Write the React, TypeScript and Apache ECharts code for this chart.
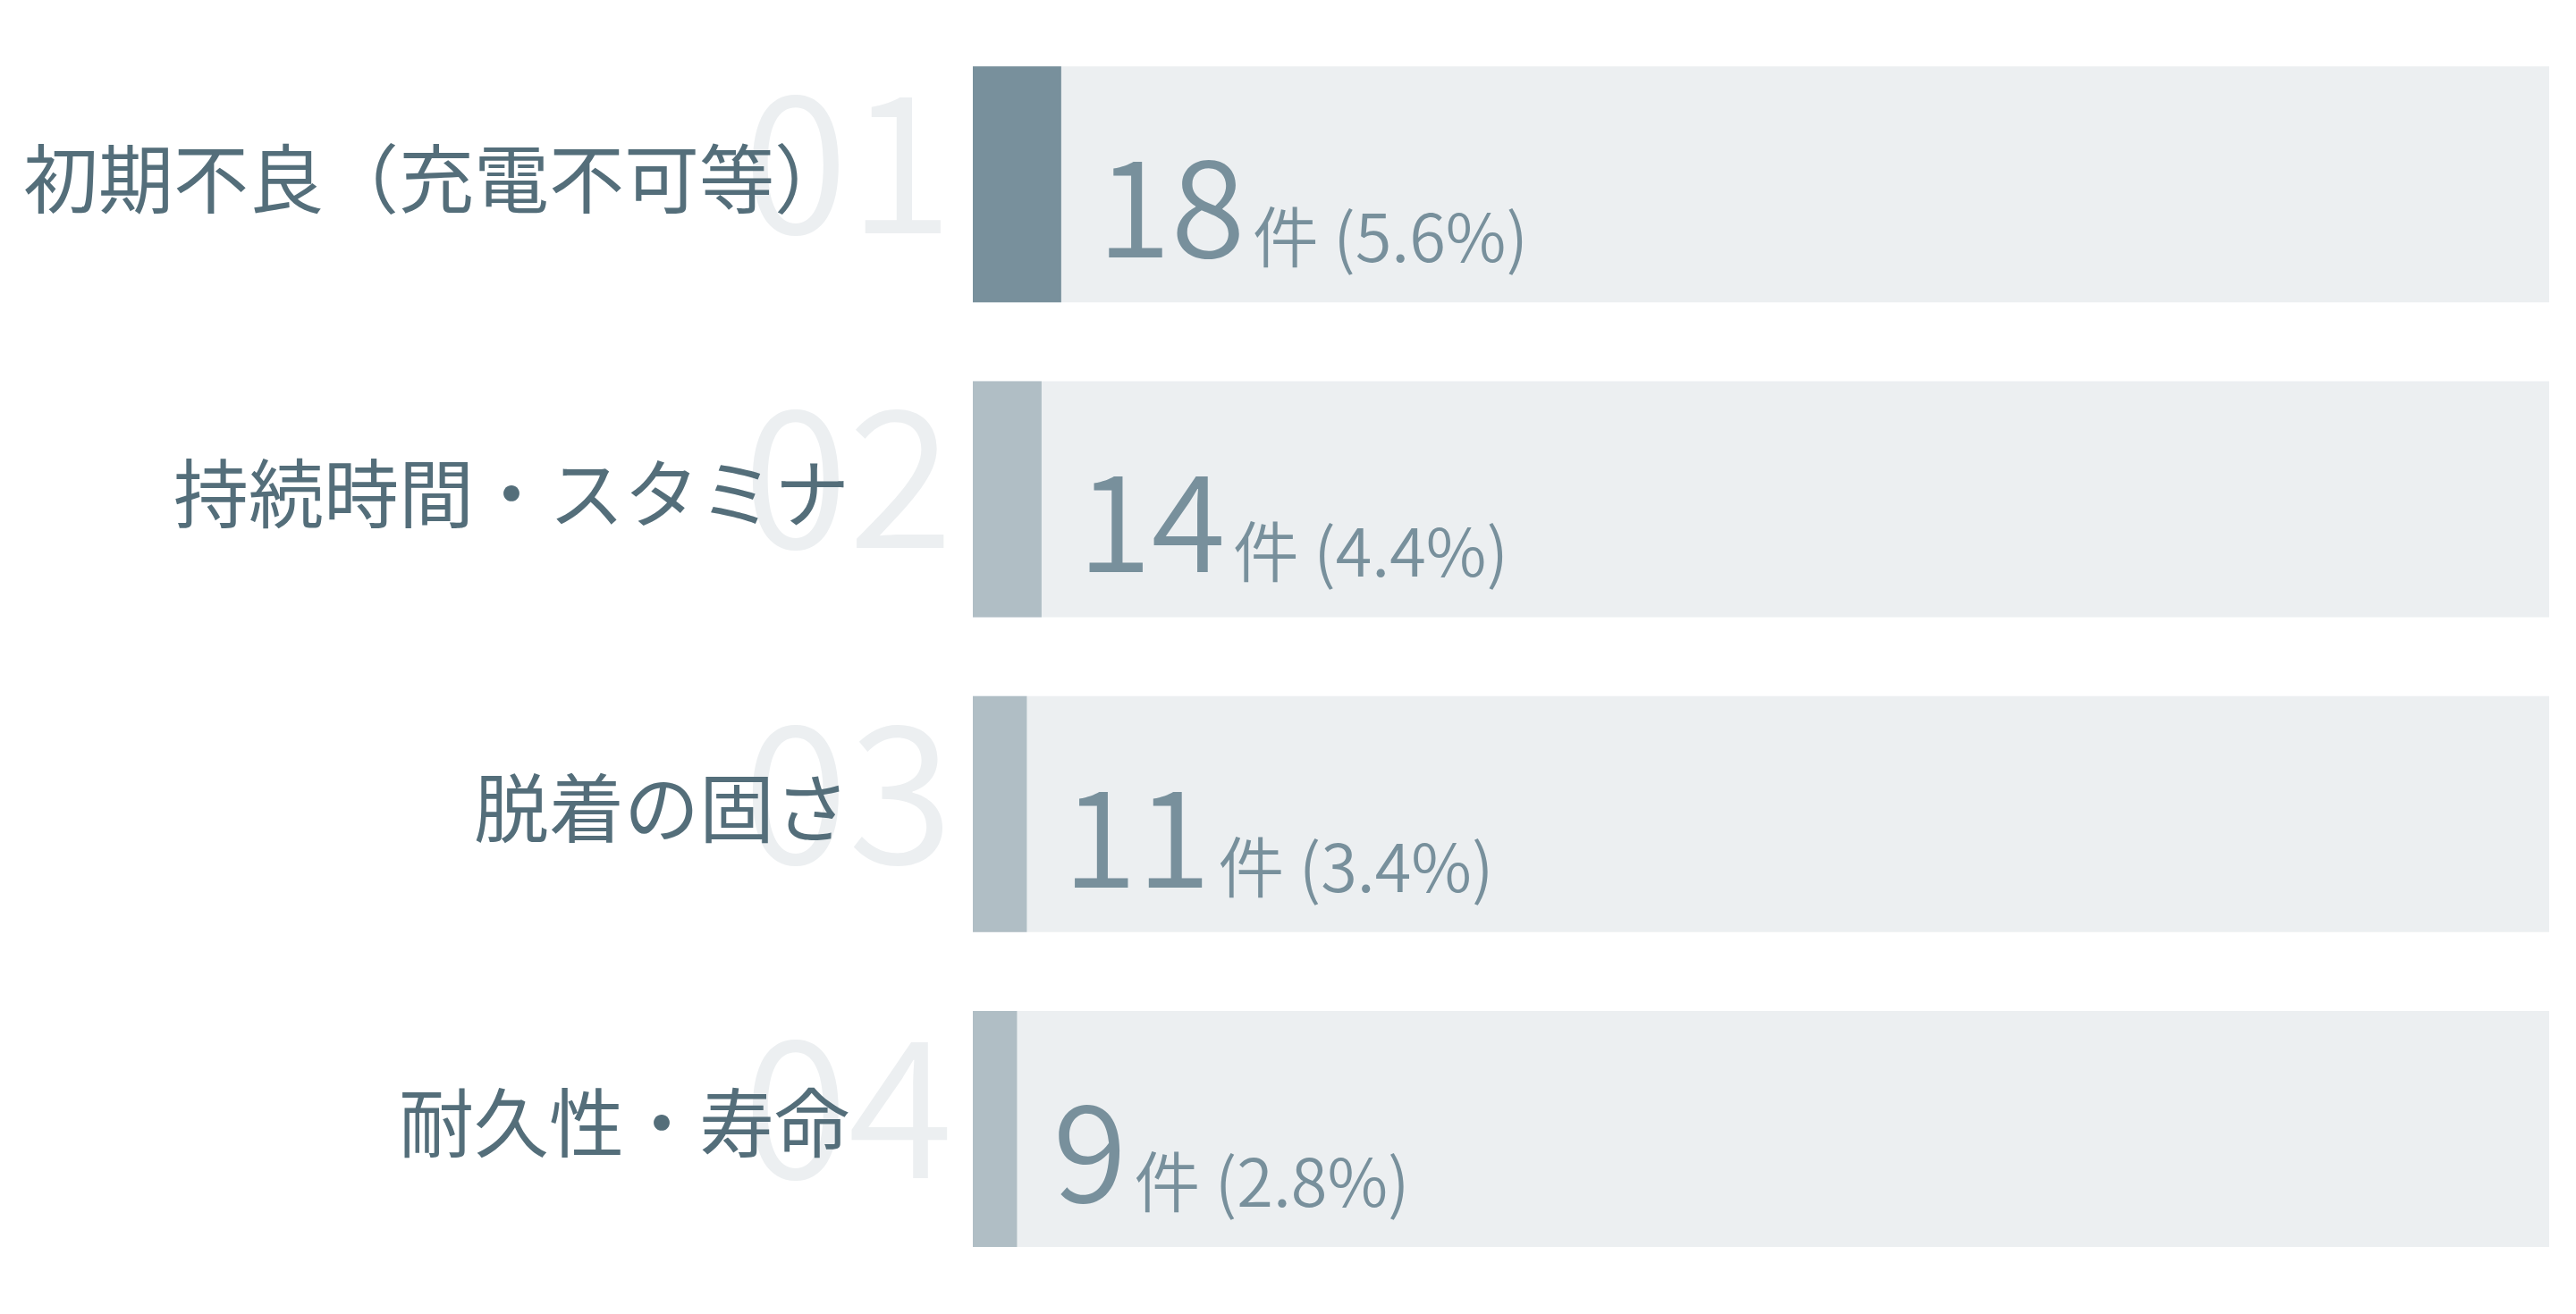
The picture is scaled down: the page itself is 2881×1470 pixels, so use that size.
import { useEffect, useRef } from "react";
import * as echarts from "echarts";

const categories = ["初期不良（充電不可等）", "持続時間・スタミナ", "脱着の固さ", "耐久性・寿命"];
const rankLabels = ["01", "02", "03", "04"];
const counts = [18, 14, 11, 9];
const percents = [5.6, 4.4, 3.4, 2.8];
const totalResponses = 321;

const barColors = ["#78909c", "#b0bec5", "#b0bec5", "#b0bec5"];
const FONT = "'Noto Sans CJK JP', 'Noto Sans', sans-serif";

export default function App() {
  const chartRef = useRef<HTMLDivElement>(null);

  useEffect(() => {
    document.body.style.margin = "0";
    if (!chartRef.current) return;
    const chart = echarts.init(chartRef.current, undefined, { renderer: "svg" });

    const option: echarts.EChartsOption = {
      animation: false,
      textStyle: { fontFamily: FONT },
      grid: { left: 1088, right: 30, top: 30, bottom: 31 },
      xAxis: {
        type: "value",
        min: 0,
        max: totalResponses,
        show: false
      },
      yAxis: [
        {
          type: "category",
          data: rankLabels,
          inverse: true,
          position: "left",
          z: 0,
          axisLine: { show: false },
          axisTick: { show: false },
          splitLine: { show: false },
          axisLabel: {
            align: "left",
            verticalAlign: "bottom",
            lineHeight: 76,
            margin: 257,
            fontSize: 214,
            fontWeight: 350,
            fontFamily: FONT,
            color: "#eceff1"
          }
        },
        {
          type: "category",
          data: categories,
          inverse: true,
          position: "left",
          z: 3,
          axisLine: { show: false },
          axisTick: { show: false },
          splitLine: { show: false },
          axisLabel: {
            verticalAlign: "bottom",
            lineHeight: 22,
            margin: 138,
            fontSize: 84,
            fontFamily: FONT,
            color: "#546e7a"
          }
        }
      ],
      series: [
        {
          type: "bar",
          yAxisIndex: 1,
          barWidth: 264,
          showBackground: true,
          backgroundStyle: { color: "#eceff1" },
          data: counts.map((v, i) => ({ value: v, itemStyle: { color: barColors[i] } })),
          label: {
            show: true,
            position: "right",
            distance: 40,
            offset: [0, 16],
            formatter: (p: any) => `{n|${counts[p.dataIndex]}}{u|件 (${percents[p.dataIndex].toFixed(1)}%)}`,
            rich: {
              n: {
                fontSize: 151,
                lineHeight: 151,
                fontWeight: 350,
                fontFamily: FONT,
                color: "#78909c",
                verticalAlign: "bottom"
              },
              u: {
                fontSize: 74,
                lineHeight: 61,
                fontWeight: 350,
                fontFamily: FONT,
                color: "#78909c",
                verticalAlign: "bottom",
                padding: [0, 0, 0, 8]
              }
            }
          }
        }
      ]
    };

    chart.setOption(option);
    const onResize = () => chart.resize();
    window.addEventListener("resize", onResize);
    return () => {
      window.removeEventListener("resize", onResize);
      chart.dispose();
    };
  }, []);

  return <div ref={chartRef} style={{ width: "100vw", height: "100vh" }} />;
}
